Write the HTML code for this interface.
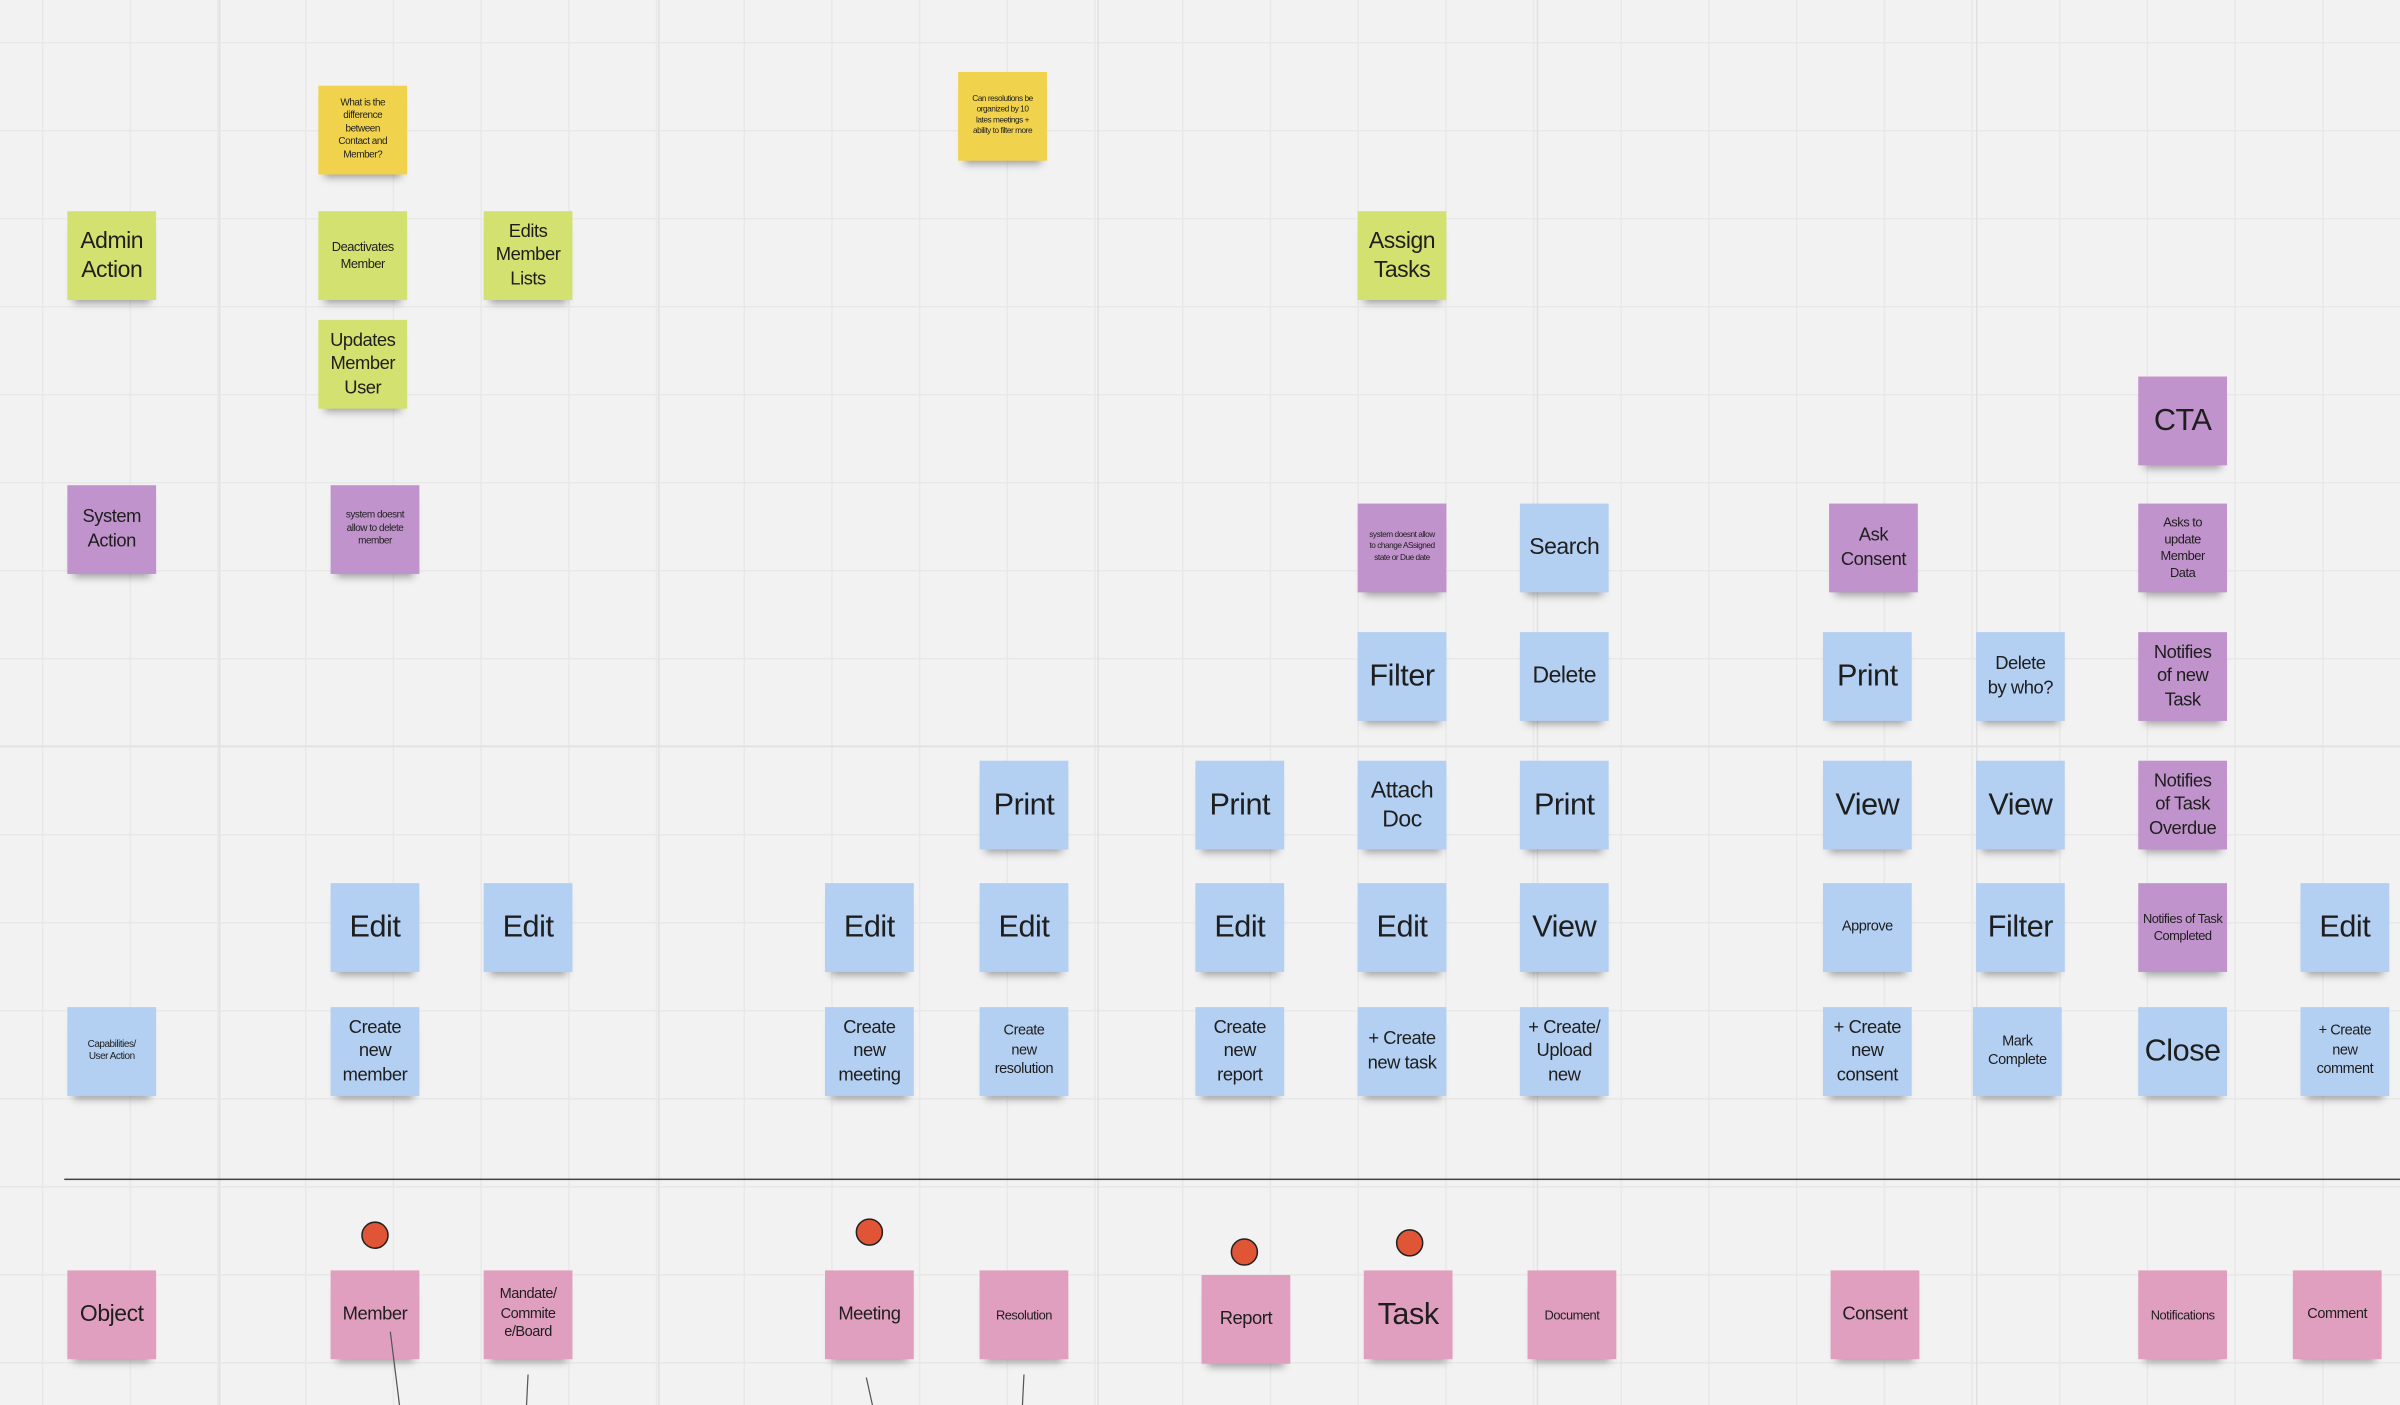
<!DOCTYPE html>
<html><head><meta charset="utf-8"><style>
html,body{margin:0;padding:0;background:#f2f2f2;overflow:hidden}
#wrap{position:absolute;left:0;top:0;width:1568px;height:918px;transform:scale(1.5306);transform-origin:0 0;
background-color:#f2f2f2;
background-image:linear-gradient(to right,#e8e8e8 1px,transparent 1px),linear-gradient(to bottom,#e8e8e8 1px,transparent 1px);
background-size:57.3px 57.5px;background-position:27.4px 27.4px;font-family:"Liberation Sans Narrow","Liberation Sans",sans-serif;}
.s{position:absolute;width:58px;height:58px;display:flex;align-items:center;justify-content:center;text-align:center;color:#1e1e1e;line-height:1.3;box-shadow:0 6px 5px -4px rgba(0,0,0,.35);box-sizing:border-box;padding:0 5px;letter-spacing:-0.3px}
.g{background:#d2e16f}.y{background:#f1d24c}.p{background:#c193cc}.b{background:#b3cff1}.k{background:#e19fc0}
.f20{font-size:20px;line-height:1.2;padding:0 1px}.f16{font-size:15px;padding:0 3px}.f13{font-size:12px}.f10{font-size:9.5px;padding:0 4px}.f9{font-size:8.4px;padding:0 3px}.f7{font-size:6.5px;padding:0 7px}.f6{font-size:5.4px;padding:0 7px}
.vl{position:absolute;top:0;width:1px;height:918px;background:#e1e1e1}
.dot{position:absolute;width:18px;height:18px;border-radius:50%;background:#e05536;border:1px solid #222;box-sizing:border-box}
</style></head><body><div id="wrap">
<div class="vl" style="left:143px"></div><div class="vl" style="left:430px"></div><div class="vl" style="left:717px"></div><div class="vl" style="left:1004px"></div><div class="vl" style="left:1291px"></div>
<div style="position:absolute;left:0;top:487px;width:1568px;height:1px;background:#e1e1e1"></div>
<div style="position:absolute;left:42px;top:770px;width:1526px;height:1.3px;background:#444"></div>

<div class="s y f7" style="left:208px;top:56px">What is the difference between Contact and Member?</div>
<div class="s y f6" style="left:626px;top:47px">Can resolutions be organized by 10 lates meetings + ability to filter more</div>

<div class="s g f16" style="left:44px;top:138px">Admin Action</div>
<div class="s g f9" style="left:208px;top:138px">Deactivates Member</div>
<div class="s g f13" style="left:316px;top:138px">Edits Member Lists</div>
<div class="s g f13" style="left:208px;top:209px">Updates Member User</div>
<div class="s g f16" style="left:887px;top:138px">Assign Tasks</div>

<div class="s p f13" style="left:44px;top:317px">System Action</div>
<div class="s p f7" style="left:216px;top:317px">system doesnt allow to delete member</div>
<div class="s p f6" style="left:887px;top:329px">system doesnt allow to change ASsigned state or Due date</div>
<div class="s p f13" style="left:1195px;top:329px">Ask Consent</div>
<div class="s p f20" style="left:1397px;top:246px">CTA</div>
<div class="s p f9" style="left:1397px;top:329px;padding:0 8px">Asks to update Member Data</div>
<div class="s p f13" style="left:1397px;top:413px">Notifies of new Task</div>
<div class="s p f13" style="left:1397px;top:497px">Notifies of Task Overdue</div>
<div class="s p f9" style="left:1397px;top:577px">Notifies of Task Completed</div>

<div class="s b f16" style="left:993px;top:329px">Search</div>
<div class="s b f20" style="left:887px;top:413px">Filter</div>
<div class="s b f16" style="left:993px;top:413px">Delete</div>
<div class="s b f20" style="left:1191px;top:413px">Print</div>
<div class="s b f13" style="left:1291px;top:413px;padding:0 6px">Delete by who?</div>
<div class="s b f20" style="left:640px;top:497px">Print</div>
<div class="s b f20" style="left:781px;top:497px">Print</div>
<div class="s b f16" style="left:887px;top:497px">Attach Doc</div>
<div class="s b f20" style="left:993px;top:497px">Print</div>
<div class="s b f20" style="left:1191px;top:497px">View</div>
<div class="s b f20" style="left:1291px;top:497px">View</div>

<div class="s b f20" style="left:216px;top:577px">Edit</div>
<div class="s b f20" style="left:316px;top:577px">Edit</div>
<div class="s b f20" style="left:539px;top:577px">Edit</div>
<div class="s b f20" style="left:640px;top:577px">Edit</div>
<div class="s b f20" style="left:781px;top:577px">Edit</div>
<div class="s b f20" style="left:887px;top:577px">Edit</div>
<div class="s b f20" style="left:993px;top:577px">View</div>
<div class="s b f10" style="left:1191px;top:577px">Approve</div>
<div class="s b f20" style="left:1291px;top:577px">Filter</div>
<div class="s b f20" style="left:1503px;top:577px">Edit</div>

<div class="s b f7" style="left:44px;top:658px">Capabilities/ User Action</div>
<div class="s b f13" style="left:216px;top:658px">Create new member</div>
<div class="s b f13" style="left:539px;top:658px">Create new meeting</div>
<div class="s b f10" style="left:640px;top:658px;padding:0 8px">Create new resolution</div>
<div class="s b f13" style="left:781px;top:658px">Create new report</div>
<div class="s b f13" style="left:887px;top:658px;padding:0 3px">+ Create new task</div>
<div class="s b f13" style="left:993px;top:658px;padding:0 3px">+ Create/ Upload new</div>
<div class="s b f13" style="left:1191px;top:658px;padding:0 3px">+ Create new consent</div>
<div class="s b f10" style="left:1289px;top:658px">Mark Complete</div>
<div class="s b f20" style="left:1397px;top:658px">Close</div>
<div class="s b f10" style="left:1503px;top:658px;padding:0 3px">+ Create new comment</div>

<div class="dot" style="left:236px;top:798px"></div>
<div class="dot" style="left:559px;top:796px"></div>
<div class="dot" style="left:804px;top:809px"></div>
<div class="dot" style="left:912px;top:803px"></div>

<div class="s k f16" style="left:44px;top:830px">Object</div>
<div class="s k f13" style="left:216px;top:830px">Member</div>
<div class="s k f10" style="left:316px;top:830px">Mandate/ Commite e/Board</div>
<div class="s k f13" style="left:539px;top:830px">Meeting</div>
<div class="s k f9" style="left:640px;top:830px">Resolution</div>
<div class="s k f13" style="left:785px;top:833px">Report</div>
<div class="s k f20" style="left:891px;top:830px">Task</div>
<div class="s k f9" style="left:998px;top:830px">Document</div>
<div class="s k f13" style="left:1196px;top:830px">Consent</div>
<div class="s k f9" style="left:1397px;top:830px">Notifications</div>
<div class="s k f10" style="left:1498px;top:830px">Comment</div>

<svg style="position:absolute;left:0;top:0" width="1568" height="918">
<g stroke="#555" stroke-width="0.8">
<line x1="255" y1="870" x2="261" y2="918"/><line x1="345" y1="898" x2="344" y2="918"/>
<line x1="566" y1="900" x2="570" y2="918"/><line x1="669" y1="898" x2="668" y2="918"/>
</g></svg>
</div></body></html>
